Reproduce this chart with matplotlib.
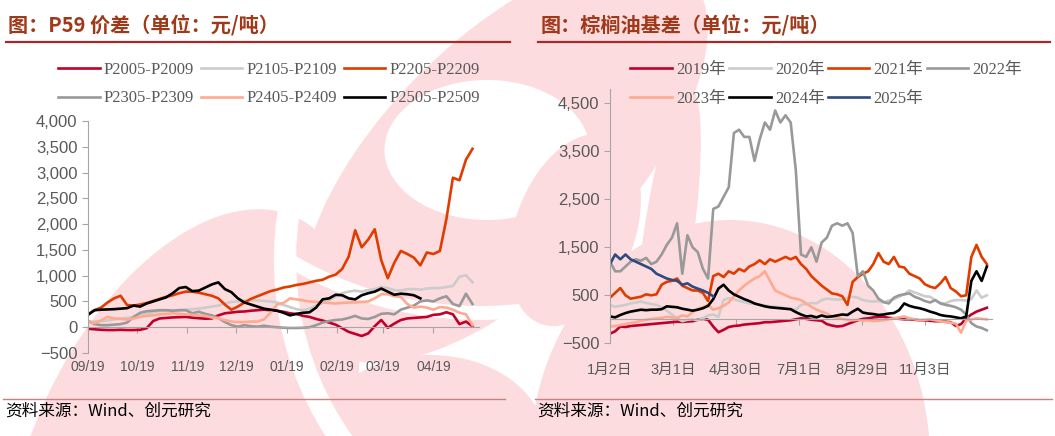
import numpy as np
import matplotlib
matplotlib.use('Agg')
import matplotlib.pyplot as plt
from matplotlib.patches import Ellipse, Circle, Arc
from matplotlib.ticker import StrMethodFormatter

# ---- left chart: P59 spread, one value every 4 days starting 09/19
p59_step = 4
p2005 = [-30, -40, -50, -55, -55, -50, -55, -55, -50, -20, 120, 170, 180, 190, 195, 200, 185, 175, 165, 170,
         230, 270, 285, 300, 305, 320, 330, 340, 330, 320, 300, 270, 255, 220, 200, 160, 130, 90, 50, -20,
         -90, -130, -170, -120, 20, 140, -10, 70, 140, 170, 180, 190, 200, 240, 250, 290, 250, 60, 110, 20]
p2105 = [100, 110, 120, 130, 150, 170, 180, 200, 230, 260, 290, 310, 320, 330, 330, 340, 350, 360, 380, 400,
         420, 460, 490, 500, 510, 520, 520, 510, 500, 480, 430, 390, 350, 330, 360, 420, 470, 520, 600, 660,
         690, 710, 690, 720, 740, 780, 760, 720, 710, 740, 740, 730, 750, 760, 760, 780, 800, 980, 1010, 870]
p2205 = [250, 330, 380, 480, 560, 610, 430, 420, 440, 470, 510, 550, 590, 620, 660, 690, 690, 670, 640, 610,
         560, 440, 340, 400, 480, 550, 600, 650, 700, 730, 770, 790, 820, 840, 870, 900, 920, 980, 1020, 1130,
         1370, 1880, 1550, 1700, 1900, 1300, 950, 1250, 1480, 1420, 1350, 1200, 1450, 1420, 1480, 2100, 2900, 2850, 3250, 3460]
p2305 = [120, 60, 40, 40, 50, 60, 90, 200, 280, 310, 320, 330, 330, 320, 330, 330, 270, 300, 260, 230,
         180, 100, 40, 10, 40, 20, 10, 30, 10, 0, -10, -15, -15, -10, 0, 40, 90, 120, 140, 150,
         180, 220, 170, 160, 200, 260, 270, 250, 340, 380, 420, 500, 520, 500, 560, 600, 450, 410, 650, 450]
p2405 = [100, 80, 130, 200, 170, 160, 150, 170, 200, 220, 230, 250, 260, 270, 260, 250, 240, 230, 220, 190,
         170, 140, 110, 100, 100, 110, 110, 150, 280, 440, 470, 560, 540, 520, 500, 490, 480, 470, 460, 470,
         480, 480, 490, 500, 560, 640, 640, 600, 590, 450, 380, 400, 380, 340, 390, 380, 340, 280, 250, 40]
p2505 = [240, 330, 340, 345, 350, 360, 370, 420, 400, 460, 500, 540, 580, 660, 760, 780, 700, 710, 770, 830,
         870, 740, 680, 560, 480, 440, 400, 360, 340, 320, 280, 230, 260, 280, 290, 380, 540, 560, 630, 620,
         560, 540, 620, 660, 690, 750, 690, 630, 650, 640, 620, 560]
p59_names = ['P2005-P2009', 'P2105-P2109', 'P2205-P2209', 'P2305-P2309', 'P2405-P2409', 'P2505-P2509']
p59_ticks = [0, 30, 61, 91, 122, 153, 181, 212]
p59_ticklabels = ['09/19', '10/19', '11/19', '12/19', '01/19', '02/19', '03/19', '04/19']

# ---- right chart: palm oil basis, one value every 5 days from Jan 2
basis_step = 5
y2019 = [-300, -250, -150, -160, -140, -130, -120, -110, -100, -90, -80, -70, -60, -50, -55, -45, -40, -10, 10, -10,
         -150, -270, -220, -160, -140, -130, -110, -100, -90, -80, -60, -60, -50, -40, -30, -20, 0, 20, 10, -10,
         -20, -30, -100, -130, -150, -140, -100, -60, -20, 10, 20, 40, 50, 50, 30, 20, 10, 0, 0, -10,
         -20, -20, -30, -40, -40, -50, -60, -140, -100, 20, 100, 160, 200, 240]
y2020 = [300, 260, 280, 300, 330, 350, 370, 340, 320, 300, 250, 180, 100, 20, -40, -10, 0, -20, 20, 80,
         100, 50, 400, 440, 420, 380, 360, 330, 320, 300, 290, 270, 260, 250, 230, 220, 200, 300, 320, 340,
         330, 400, 430, 420, 410, 420, 450, 470, 450, 400, 380, 370, 380, 350, 390, 420, 470, 520, 600, 560,
         520, 480, 470, 400, 340, 330, 380, 400, 400, 390, 420, 600, 450, 500]
y2021 = [450, 550, 650, 500, 430, 450, 470, 520, 500, 520, 720, 780, 800, 850, 700, 650, 600, 600, 550, 380,
         900, 950, 880, 1000, 950, 1050, 1000, 1100, 1150, 1230, 1150, 1250, 1200, 1250, 1300, 1250, 1300, 1150, 1050, 900,
         800, 700, 620, 540, 520, 480, 300, 780, 880, 950, 1000, 1150, 1380, 1200, 1150, 1300, 1100, 1080, 950, 900,
         850, 730, 680, 650, 750, 880, 650, 580, 480, 500, 1300, 1550, 1300, 1150]
y2022 = [1200, 1000, 1000, 1100, 1200, 1250, 1220, 1280, 1150, 1200, 1350, 1550, 1700, 2000, 950, 1750, 1500, 1400, 1050, 850,
         2300, 2350, 2550, 2750, 3880, 3950, 3800, 3800, 3300, 3750, 4100, 3950, 4350, 4100, 4250, 4100, 3100, 1350, 1300, 1500,
         1200, 1600, 1700, 1950, 2000, 1950, 2000, 1800, 900, 1000, 700, 600, 430, 360, 330, 450, 500, 520, 540, 470,
         430, 380, 350, 400, 330, 300, 280, 250, 200, 100, -80, -150, -180, -230]
y2023 = [-150, -140, -120, -100, -80, -60, -30, -10, 10, 20, 30, 50, 40, 30, 80, 60, 150, 220, 250, 300,
         200, 230, 280, 350, 480, 600, 700, 780, 850, 900, 1000, 800, 600, 550, 500, 450, 430, 400, 330, 260,
         200, 160, 120, 60, 30, 10, -10, -20, -10, -30, -20, -40, -30, -20, 0, 20, 40, 60, 20, 0,
         -20, -10, 0, -20, -40, -60, -70, -90, -280, -30, 0, 20, 10, 0]
y2024 = [60, 40, 90, 130, 160, 180, 200, 190, 200, 200, 210, 270, 260, 250, 220, 200, 180, 200, 230, 280,
         420, 640, 720, 600, 520, 470, 420, 380, 330, 300, 270, 250, 240, 230, 220, 210, 150, 100, 60, 70,
         40, 80, 50, 60, 80, 100, 90, 160, 220, 140, 120, 110, 90, 100, 120, 130, 190, 330, 280, 250,
         230, 200, 160, 130, 90, 70, 60, 40, 20, 60, 800, 1000, 800, 1100]
y2025 = [1150, 1350, 1250, 1350, 1250, 1200, 1150, 1100, 1050, 950, 900, 850, 820, 800, 720, 750, 680, 640, 600, 550, 480]
basis_names = ['2019年', '2020年', '2021年', '2022年', '2023年', '2024年', '2025年']
basis_ticks = [0, 61, 122, 183, 244, 305]
basis_ticklabels = ['1月2日', '3月1日', '4月30日', '7月1日', '8月29日', '11月3日']

crimson = '#C0002B'
lgray = '#CCCCCC'
orange = '#E03C00'
gray = '#999999'
salmon = '#FFAA90'
black = '#000000'
navy = '#2E4A7E'
p59_colors = [crimson, lgray, orange, gray, salmon, black]
basis_colors = [crimson, lgray, orange, gray, salmon, black, navy]

W, H = 1055, 436
fig = plt.figure(figsize=(W / 100, H / 100), dpi=100)

# background layer in pixel units: watermark logo + rules
bg = fig.add_axes([0, 0, 1, 1], zorder=0)
bg.set_xlim(0, W)
bg.set_ylim(H, 0)
bg.axis('off')
pink = '#FDDCDF'
bg.add_patch(Ellipse((182, 462), 300, 540, angle=25, color=pink, lw=0))
bg.add_patch(Ellipse((505, 160), 520, 242, angle=-45, color=pink, lw=0))
bg.add_patch(Ellipse((430, 440), 230, 170, color=pink, lw=0))
bg.add_patch(Ellipse((487, 150), 205, 140, color='white', lw=0))
bg.add_patch(Arc((600, 260), 630, 630, theta1=140, theta2=195, color='white', lw=16))
bg.add_patch(Arc((480, -58), 742, 742, theta1=80, theta2=122, color='white', lw=10))
bg.add_patch(Circle((660, 64), 24, color=pink, lw=0))
bg.add_patch(Ellipse((575, 230), 120, 200, angle=20, color=pink, lw=0))
bg.add_patch(Ellipse((668, 240), 50, 310, angle=8, color=pink, lw=0))
bg.add_patch(Ellipse((730, 460), 400, 480, color=pink, lw=0))

rule = '#A52A2A'
bg.plot([6, 510], [42, 42], color=rule, lw=1.6)
bg.plot([538, 1050], [42, 42], color=rule, lw=1.6)
bg.plot([3, 505], [399, 399], color='#C88080', lw=1)
bg.plot([535, 1052], [399, 399], color='#C88080', lw=1)

title_kw = dict(fontsize=14.5, fontweight='bold', color='#A0391A', va='center',
                family=['Noto Sans CJK SC', 'DejaVu Sans'])
fig.text(8 / W, 1 - 26 / H, '图：P59 价差（单位：元/吨）', **title_kw)
fig.text(541 / W, 1 - 26 / H, '图：棕榈油基差（单位：元/吨）', **title_kw)
src_kw = dict(fontsize=12, color='black', va='center', family=['Noto Sans CJK SC', 'DejaVu Sans'])
fig.text(5 / W, 1 - 411 / H, '资料来源：Wind、创元研究', **src_kw)
fig.text(537 / W, 1 - 411 / H, '资料来源：Wind、创元研究', **src_kw)

axis_gray = '#A6A6A6'
label_gray = '#595959'
num_font = ['Liberation Sans', 'Noto Sans CJK SC']
leg_font = {'family': ['Liberation Serif', 'Noto Sans CJK SC'], 'size': 12}


def style_axes(ax, ticks, ticklabels, xlabel_size, xpad):
    for s in ['top', 'right']:
        ax.spines[s].set_visible(False)
    ax.spines['bottom'].set_position(('data', 0))
    ax.spines['bottom'].set_color(axis_gray)
    ax.spines['left'].set_color(axis_gray)
    ax.yaxis.set_major_formatter(StrMethodFormatter('{x:,.0f}'))
    ax.tick_params(axis='y', direction='out', length=4, color=axis_gray, labelcolor=label_gray, labelsize=12)
    for t in ax.get_yticklabels():
        t.set_family(num_font)
    ax.set_xticks(ticks)
    ax.tick_params(axis='x', direction='out', length=4, color=axis_gray, labelbottom=False)
    sec = ax.secondary_xaxis('bottom')
    sec.set_xticks(ticks, labels=ticklabels)
    sec.spines['bottom'].set_visible(False)
    sec.tick_params(length=0, pad=xpad, labelsize=xlabel_size, labelcolor=label_gray)
    for t in sec.get_xticklabels():
        t.set_family(num_font)


def row_legend(ax, ncol, anchor, spacing):
    # matplotlib fills legend columns first; reorder so entries read across rows
    handles, labels = ax.get_legend_handles_labels()
    nrow = -(-len(handles) // ncol)
    order = [r * ncol + c for c in range(ncol) for r in range(nrow) if r * ncol + c < len(handles)]
    ax.legend([handles[i] for i in order], [labels[i] for i in order], ncol=ncol, frameon=False,
              loc='upper left', bbox_to_anchor=anchor, bbox_transform=fig.transFigure,
              prop=leg_font, labelcolor=label_gray, handlelength=2.5, handletextpad=0.25,
              columnspacing=spacing, labelspacing=0.75, borderpad=0, borderaxespad=0)


# left chart
ax1 = fig.add_axes([88 / W, 1 - 353 / H, 391 / W, 232 / H], zorder=1)
ax1.patch.set_alpha(0)
for vals, name, c in zip([p2005, p2105, p2205, p2305, p2405, p2505], p59_names, p59_colors):
    ax1.plot(np.arange(len(vals)) * p59_step, vals, color=c, lw=1.9, label=name)
ax1.set_xlim(0, 240)
ax1.set_ylim(-500, 4000)
ax1.set_yticks(np.arange(-500, 4001, 500))
style_axes(ax1, p59_ticks, p59_ticklabels, 10, 5)
row_legend(ax1, 3, (58 / W, 1 - 62 / H), 0.4)

# right chart
ax2 = fig.add_axes([610 / W, 1 - 343.3 / H, 382 / W, 254.4 / H], zorder=1)
ax2.patch.set_alpha(0)
for vals, name, c in zip([y2019, y2020, y2021, y2022, y2023, y2024, y2025], basis_names, basis_colors):
    ax2.plot(np.arange(len(vals)) * basis_step, vals, color=c, lw=1.9, label=name)
ax2.set_xlim(0, 370)
ax2.set_ylim(-500, 4800)
ax2.set_yticks(np.arange(-500, 4501, 1000))
style_axes(ax2, basis_ticks, basis_ticklabels, 10.5, 14)
row_legend(ax2, 4, (630 / W, 1 - 62 / H), 0.2)

fig.savefig('out.png', dpi=100)
